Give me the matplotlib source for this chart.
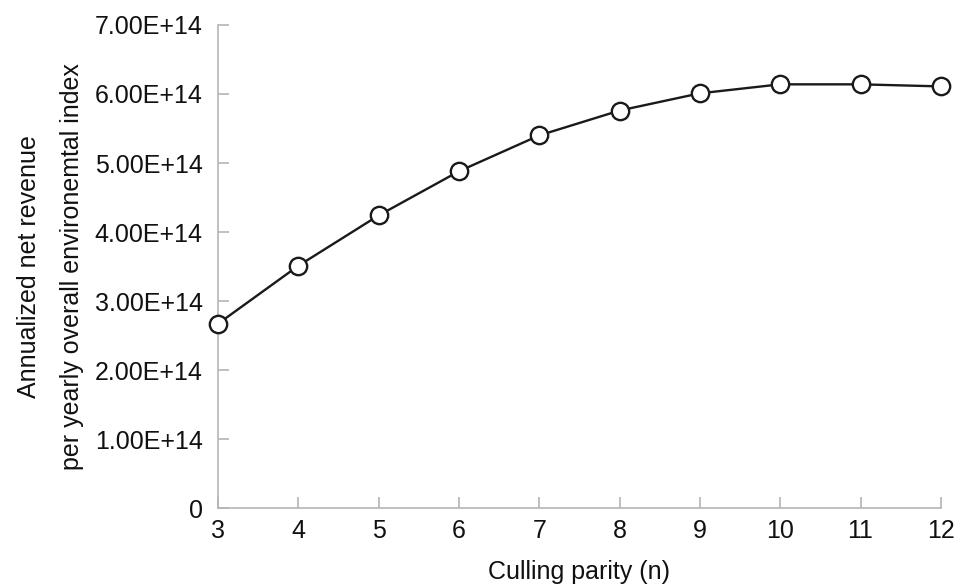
import matplotlib
matplotlib.use("Agg")
import matplotlib.pyplot as plt
from matplotlib.ticker import FuncFormatter

plt.rcParams['font.family'] = ['Liberation Sans', 'DejaVu Sans']

parity = [3, 4, 5, 6, 7, 8, 9, 10, 11, 12]
revenue = [2.67e14, 3.51e14, 4.24e14, 4.88e14, 5.40e14, 5.76e14, 6.01e14, 6.14e14, 6.14e14, 6.11e14]
yticks = [0, 1e14, 2e14, 3e14, 4e14, 5e14, 6e14, 7e14]

fig = plt.figure(figsize=(9.62, 5.88), dpi=100)
ax = fig.add_axes([0.2266, 0.136, 0.7514, 0.8215])

ax.plot(parity, revenue, color='#1a1a1a', lw=1.7, marker='o', ms=12.5,
        mfc='white', mec='#1a1a1a', mew=1.7, clip_on=False, zorder=3)

ax.set_xlim(3, 12)
ax.set_ylim(0, 7e14)
ax.set_xticks(parity)
ax.set_yticks(yticks)

def fmt(v, pos):
    if v == 0:
        return "0"
    return "%.2fE+%d" % (v / 1e14, 14)

ax.yaxis.set_major_formatter(FuncFormatter(fmt))

for s in ['top', 'right']:
    ax.spines[s].set_visible(False)
for s in ['left', 'bottom']:
    ax.spines[s].set_color('#b5b5b5')
    ax.spines[s].set_linewidth(1.2)

ax.tick_params(axis='both', direction='in', length=8, width=1.2, color='#b5b5b5',
               labelsize=18, labelcolor='#111111')
ax.tick_params(axis='y', pad=11)
ax.tick_params(axis='x', pad=8)

ax.set_xlabel("Culling parity (n)", fontsize=18, color='#111111', labelpad=12)
ax.set_ylabel("Annualized net revenue\nper yearly overall environemtal index",
              fontsize=18, color='#111111', labelpad=8, linespacing=2.0)

fig.savefig("out.png", dpi=100)
